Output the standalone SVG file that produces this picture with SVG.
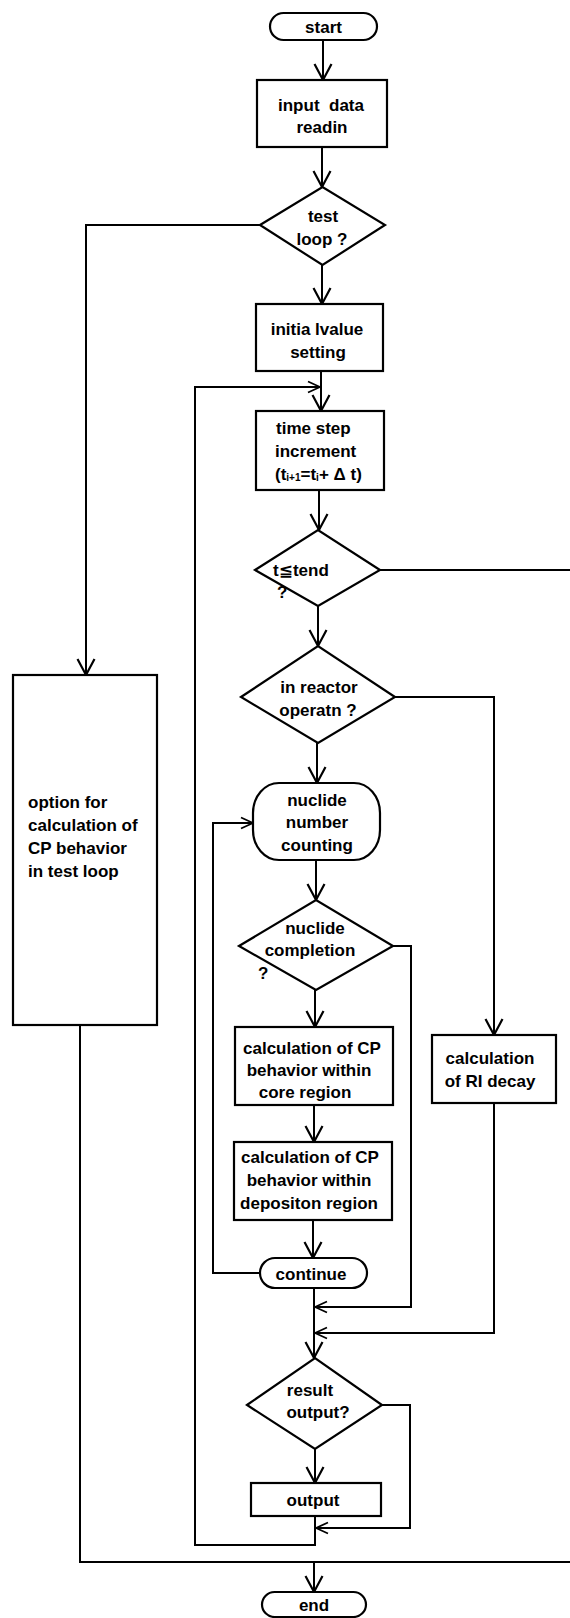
<svg xmlns="http://www.w3.org/2000/svg" width="570" height="1618" viewBox="0 0 570 1618">
  <defs>
    <style>
      .shape { fill: #fff; stroke: #000; stroke-width: 2.2; }
      .wire { fill: none; stroke: #000; stroke-width: 2; }
      .wire-big { marker-end: url(#arrow); }
      .wire-small { marker-end: url(#arrow-small); }
      text { font-family: "Liberation Sans", "DejaVu Sans", Arial, sans-serif; font-size: 17px; font-weight: bold; fill: #000; }
      .c { text-anchor: middle; }
      .sub { font-size: 10px; }
    </style>
    <marker id="arrow" markerUnits="userSpaceOnUse" markerWidth="22" markerHeight="22" viewBox="-19 -11 22 22" refX="0" refY="0" orient="auto">
      <path d="M-16,-8.5 L0,0 L-16,8.5" fill="none" stroke="#000" stroke-width="2.2"/>
    </marker>
    <marker id="arrow-small" markerUnits="userSpaceOnUse" markerWidth="16" markerHeight="14" viewBox="-14 -7 16 14" refX="0" refY="0" orient="auto">
      <path d="M-12,-5.5 L0,0 L-12,5.5" fill="none" stroke="#000" stroke-width="1.8"/>
    </marker>
  </defs>

  <!-- connectors -->
  <g id="connectors">
    <path class="wire wire-big" d="M323,40 V80"/>
    <path class="wire wire-big" d="M322,147 V187"/>
    <path class="wire wire-big" d="M260,225 H86 V675"/>
    <path class="wire wire-big" d="M322,265 V304"/>
    <path class="wire wire-big" d="M321,371 V411"/>
    <path class="wire wire-small" d="M315,1516 V1545 H195 V387 H320"/>
    <path class="wire wire-big" d="M319,490 V530"/>
    <path class="wire" d="M380,570 H570"/>
    <path class="wire wire-big" d="M318,606 V646"/>
    <path class="wire wire-big" d="M395,697 H494 V1035"/>
    <path class="wire wire-big" d="M317,743 V783"/>
    <path class="wire wire-small" d="M260,1273 H213 V823 H253"/>
    <path class="wire wire-big" d="M316,860 V900"/>
    <path class="wire wire-small" d="M393,946 H411 V1307 H315"/>
    <path class="wire wire-big" d="M315,990 V1027"/>
    <path class="wire wire-big" d="M314,1105 V1142"/>
    <path class="wire wire-big" d="M313,1220 V1258"/>
    <path class="wire wire-small" d="M494,1103 V1333 H315"/>
    <path class="wire wire-big" d="M314,1288 V1358"/>
    <path class="wire wire-small" d="M382,1405 H410 V1528 H316"/>
    <path class="wire wire-big" d="M315,1449 V1483"/>
    <path class="wire" d="M80,1025 V1562 H570"/>
    <path class="wire wire-big" d="M314,1562 V1592"/>
  </g>

  <g id="start">
    <rect class="shape" x="270" y="13" width="107" height="27" rx="13.5"/>
    <text class="c" x="323.5" y="33">start</text>
  </g>

  <g id="input-data">
    <rect class="shape" x="257" y="80" width="130" height="67"/>
    <text class="c" x="321" y="111" xml:space="preserve">input  data</text>
    <text class="c" x="322" y="133">readin</text>
  </g>

  <g id="test-loop">
    <polygon class="shape" points="260,225 322.5,187 385,225 322.5,265"/>
    <text class="c" x="323" y="222">test</text>
    <text class="c" x="322" y="245">loop ?</text>
  </g>

  <g id="initial-value">
    <rect class="shape" x="256" y="304" width="127" height="67"/>
    <text class="c" x="317" y="335">initia lvalue</text>
    <text class="c" x="318" y="358">setting</text>
  </g>

  <g id="time-step">
    <rect class="shape" x="256" y="411" width="128" height="79"/>
    <text x="276" y="434">time step</text>
    <text x="275" y="457">increment</text>
    <text x="275" y="480">(t<tspan class="sub" dy="1">i+1</tspan><tspan dy="-1">=t</tspan><tspan class="sub" dy="1">i</tspan><tspan dy="-1">+ Δ t)</tspan></text>
  </g>

  <g id="time-check">
    <polygon class="shape" points="255,570 318,530 380,570 318,606"/>
    <text x="273" y="576">t≦tend</text>
    <text x="277" y="598">?</text>
  </g>

  <g id="reactor-operation">
    <polygon class="shape" points="241,697 318,646 395,697 318,743"/>
    <text class="c" x="319" y="693">in reactor</text>
    <text class="c" x="318" y="716">operatn ?</text>
  </g>

  <g id="nuclide-counting">
    <rect class="shape" x="253" y="783" width="127" height="77" rx="26" ry="30"/>
    <text class="c" x="317" y="806">nuclide</text>
    <text class="c" x="317" y="828">number</text>
    <text class="c" x="317" y="851">counting</text>
  </g>

  <g id="nuclide-completion">
    <polygon class="shape" points="239,946 316,900 393,946 316,990"/>
    <text class="c" x="315" y="934">nuclide</text>
    <text class="c" x="310" y="956">completion</text>
    <text x="258" y="979">?</text>
  </g>

  <g id="core-region">
    <rect class="shape" x="235" y="1027" width="158" height="78"/>
    <text class="c" x="312" y="1054">calculation of CP</text>
    <text class="c" x="309" y="1076">behavior within</text>
    <text class="c" x="305" y="1098">core region</text>
  </g>

  <g id="deposition-region">
    <rect class="shape" x="234" y="1142" width="158" height="78"/>
    <text class="c" x="310" y="1163">calculation of CP</text>
    <text class="c" x="309" y="1186">behavior within</text>
    <text class="c" x="309" y="1209">depositon region</text>
  </g>

  <g id="continue">
    <rect class="shape" x="260" y="1258" width="107" height="30" rx="15"/>
    <text class="c" x="311" y="1280">continue</text>
  </g>

  <g id="ri-decay">
    <rect class="shape" x="432" y="1035" width="124" height="68"/>
    <text class="c" x="490" y="1064">calculation</text>
    <text class="c" x="490" y="1087">of RI decay</text>
  </g>

  <g id="result-output">
    <polygon class="shape" points="247,1405 315,1358 382,1405 315,1449"/>
    <text class="c" x="310" y="1396">result</text>
    <text class="c" x="318" y="1418">output?</text>
  </g>

  <g id="output">
    <rect class="shape" x="251" y="1483" width="130" height="33"/>
    <text class="c" x="313" y="1506">output</text>
  </g>

  <g id="test-loop-option">
    <rect class="shape" x="13" y="675" width="144" height="350"/>
    <text x="28" y="808">option for</text>
    <text x="28" y="831">calculation of</text>
    <text x="28" y="854">CP behavior</text>
    <text x="28" y="877">in test loop</text>
  </g>

  <g id="end">
    <rect class="shape" x="262" y="1592" width="104" height="25" rx="12.5"/>
    <text class="c" x="314" y="1611">end</text>
  </g>
</svg>
